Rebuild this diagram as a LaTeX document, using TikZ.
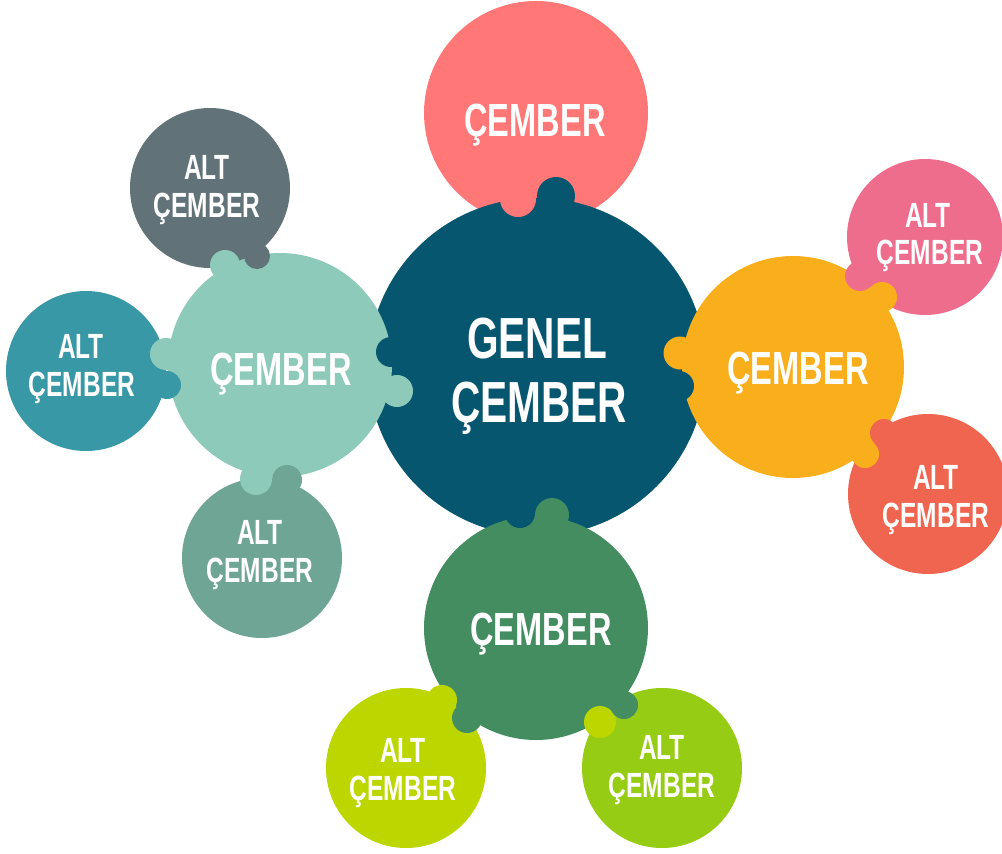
\documentclass[tikz,border=0pt]{standalone}
\usepackage{fontspec}
\newfontfamily\cf{Liberation Sans}[FakeStretch=0.70]
\definecolor{cDark}{HTML}{05566E}
\definecolor{cRed}{HTML}{FF7777}
\definecolor{cLight}{HTML}{8DCABA}
\definecolor{cOrange}{HTML}{F9AF1B}
\definecolor{cGreen}{HTML}{438D61}
\definecolor{cGray}{HTML}{617378}
\definecolor{cTeal}{HTML}{3898A6}
\definecolor{cSage}{HTML}{6EA594}
\definecolor{cPink}{HTML}{EE6D8D}
\definecolor{cCoral}{HTML}{F0654F}
\definecolor{cLime}{HTML}{BCD600}
\definecolor{cLeaf}{HTML}{97CC14}
\begin{document}
\begin{tikzpicture}[x=1pt,y=-1pt,
  disc/.style={circle,inner sep=0pt,draw=none},
  bigdisc/.style={disc,minimum size=224pt},
  altdisc/.style={disc,minimum size=160pt},
  maintxt/.style={text=white,anchor=base,inner sep=0pt,font=\cf\bfseries\fontsize{46.5}{50}\selectfont},
  gentxt/.style={text=white,anchor=base,inner sep=0pt,font=\cf\bfseries\fontsize{58}{62}\selectfont},
  alttxt/.style={text=white,anchor=base,inner sep=0pt,font=\cf\bfseries\fontsize{35}{38}\selectfont}]
\useasboundingbox (0,0) rectangle (1002,854);
% top satellite lies under the center
\node[bigdisc,fill=cRed] (T) at (536,113) {};
% center
\node[disc,minimum size=338pt,fill=cDark] (C) at (537,367) {};
% alt circles
\node[altdisc,fill=cGray] (G) at (210,188) {};
\node[altdisc,fill=cTeal] (A) at (86,371) {};
\node[altdisc,fill=cSage] (M) at (262,558) {};
\node[disc,minimum size=156pt,fill=cPink] (P) at (925,237) {};
\node[altdisc,fill=cCoral] (Q) at (928,494) {};
\node[altdisc,fill=cLime] (Y) at (406,768) {};
\node[altdisc,fill=cLeaf] (Z) at (662,768) {};
% main satellites
\node[bigdisc,fill=cLight] (L) at (280,365) {};
\node[disc,minimum size=222pt,fill=cOrange] (R) at (793,367) {};
\node[bigdisc,fill=cGreen] (B) at (536,628) {};
% puzzle bumps
\fill[cDark] (556,196) circle (19pt);
\fill[cRed] (518,199) circle (18pt);
\fill[cDark] (391,352) circle (15pt);
\fill[cLight] (397,391) circle (16pt);
\fill[cDark] (679,386) circle (15pt);
\fill[cOrange] (680,353) circle (16.5pt);
\fill[cDark] (520,513) circle (15pt);
\fill[cGreen] (552,515) circle (17pt);
\fill[cGray] (257,256) circle (13pt);
\fill[cLight] (225,265) circle (15pt);
\fill[cLight] (166,354) circle (16pt);
\fill[cTeal] (167,385) circle (14pt);
\fill[cLight] (256,479) circle (16pt);
\fill[cSage] (287,480) circle (15pt);
\fill[cPink] (860,276) circle (15pt);
\fill[cOrange] (882,297) circle (15pt);
\fill[cCoral] (884,433) circle (14pt);
\fill[cOrange] (865,454) circle (14pt);
\fill[cLime] (442,700) circle (15pt);
\fill[cGreen] (467,718) circle (15pt);
\fill[cLime] (600,722) circle (16pt);
\fill[cGreen] (624,705) circle (14pt);
% texts
\node[maintxt] (tT) at (535,136) {ÇEMBER};
\node[gentxt] (tC1) at (537,358) {GENEL};
\node[gentxt] (tC2) at (539,422) {ÇEMBER};
\node[maintxt] (tR) at (798,384) {ÇEMBER};
\node[maintxt] (tL) at (281,385) {ÇEMBER};
\node[maintxt] (tB) at (541,645) {ÇEMBER};
\node[alttxt] (tG1) at (207,179) {ALT};
\node[alttxt] (tG2) at (207,217) {ÇEMBER};
\node[alttxt] (tA1) at (81,358) {ALT};
\node[alttxt] (tA2) at (82,396) {ÇEMBER};
\node[alttxt] (tM1) at (260,544) {ALT};
\node[alttxt] (tM2) at (260,582) {ÇEMBER};
\node[alttxt] (tP1) at (928,227) {ALT};
\node[alttxt] (tP2) at (930,264) {ÇEMBER};
\node[alttxt] (tQ1) at (936,489) {ALT};
\node[alttxt] (tQ2) at (936,527) {ÇEMBER};
\node[alttxt] (tY1) at (403,762) {ALT};
\node[alttxt] (tY2) at (403,800) {ÇEMBER};
\node[alttxt] (tZ1) at (662,759) {ALT};
\node[alttxt] (tZ2) at (662,797) {ÇEMBER};
\end{tikzpicture}
\end{document}
